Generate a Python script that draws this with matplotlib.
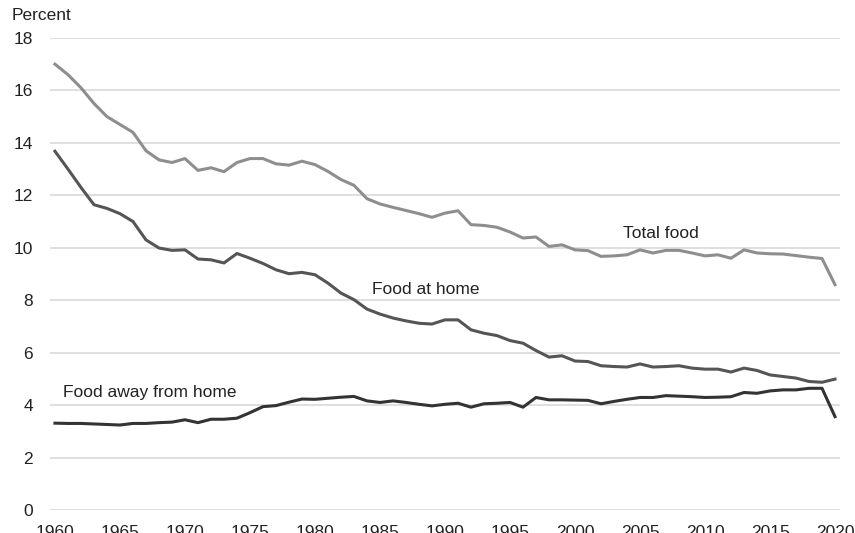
import matplotlib
matplotlib.use("Agg")
import matplotlib.pyplot as plt

plt.rcParams['font.family'] = ['Liberation Sans', 'DejaVu Sans']

years = list(range(1960, 2021))

# share of disposable income spent on food (percent)
total_food = [17.0, 16.6, 16.1, 15.5, 15.0, 14.7, 14.4, 13.7, 13.35, 13.25,
              13.4, 12.95, 13.05, 12.9, 13.25, 13.4, 13.4, 13.2, 13.15, 13.3,
              13.17, 12.91, 12.6, 12.38, 11.87, 11.67, 11.54, 11.42, 11.3, 11.16,
              11.32, 11.41, 10.88, 10.85, 10.78, 10.6, 10.37, 10.41, 10.05, 10.11,
              9.92, 9.89, 9.67, 9.69, 9.73, 9.92, 9.8, 9.9, 9.9, 9.8,
              9.69, 9.73, 9.6, 9.92, 9.8, 9.77, 9.76, 9.7, 9.64, 9.59,
              8.59]
food_at_home = [13.68, 13.0, 12.3, 11.64, 11.5, 11.3, 11.0, 10.3, 9.99, 9.9,
                9.92, 9.57, 9.54, 9.42, 9.78, 9.6, 9.4, 9.16, 9.01, 9.06,
                8.97, 8.65, 8.27, 8.02, 7.66, 7.47, 7.32, 7.21, 7.12, 7.09,
                7.25, 7.25, 6.87, 6.74, 6.65, 6.46, 6.36, 6.08, 5.83, 5.88,
                5.68, 5.66, 5.5, 5.47, 5.45, 5.57, 5.45, 5.47, 5.5, 5.41,
                5.37, 5.37, 5.26, 5.41, 5.32, 5.15, 5.09, 5.03, 4.9, 4.87,
                4.99]
food_away = [3.31, 3.3, 3.3, 3.28, 3.26, 3.24, 3.3, 3.3, 3.33, 3.35,
             3.44, 3.33, 3.46, 3.46, 3.5, 3.71, 3.94, 3.98, 4.11, 4.23,
             4.22, 4.26, 4.3, 4.33, 4.16, 4.1, 4.16, 4.1, 4.03, 3.97,
             4.03, 4.07, 3.92, 4.05, 4.07, 4.1, 3.92, 4.29, 4.2, 4.2,
             4.19, 4.18, 4.05, 4.14, 4.22, 4.29, 4.29, 4.36, 4.34, 4.32,
             4.29, 4.3, 4.32, 4.48, 4.45, 4.54, 4.58, 4.58, 4.64, 4.64,
             3.56]

fig = plt.figure(figsize=(8.55, 5.33), dpi=100)
ax = fig.add_axes([0.0582, 0.0432, 0.9245, 0.8856])

ax.plot(years, total_food, color='#8e8e8e', lw=2.2)
ax.plot(years, food_at_home, color='#555555', lw=2.2)
ax.plot(years, food_away, color='#333333', lw=2.2)

ax.text(2003.7, 10.53, 'Total food', fontsize=12.5, va='center', color='#222222')
ax.text(1984.4, 8.42, 'Food at home', fontsize=12.5, va='center', color='#222222')
ax.text(1960.6, 4.47, 'Food away from home', fontsize=12.5, va='center', color='#222222')

ax.set_xlim(1959.6, 2020.4)
ax.set_ylim(0, 18)
ax.set_yticks(range(0, 19, 2))
ax.set_xticks(range(1960, 2021, 5))
ax.yaxis.grid(True, color='#dcdcdc', lw=1.3)
ax.set_axisbelow(True)
for s in ax.spines.values():
    s.set_visible(False)
ax.tick_params(axis='both', length=0, labelsize=12.5, colors='#222222')
ax.tick_params(axis='y', pad=12)
ax.tick_params(axis='x', pad=11)

fig.text(12 / 855, 1 - 15 / 533, 'Percent', fontsize=12.5, va='center', color='#222222')

fig.savefig('out.png', dpi=100)
